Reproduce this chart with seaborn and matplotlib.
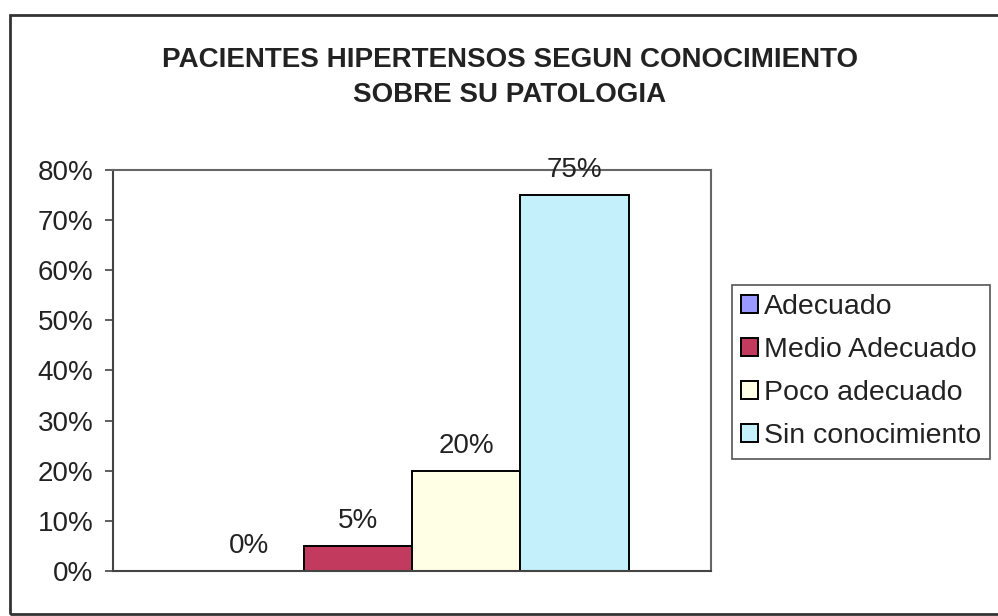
import matplotlib
matplotlib.use("Agg")
import matplotlib.pyplot as plt
from matplotlib.patches import Rectangle
from matplotlib.ticker import PercentFormatter
import seaborn as sns
import pandas as pd

# chart data
categories = ["Adecuado", "Medio Adecuado", "Poco adecuado", "Sin conocimiento"]
values = [0, 5, 20, 75]
colors = ["#9999FF", "#C23A5E", "#FFFFE6", "#C4F0FC"]
title = "PACIENTES HIPERTENSOS SEGUN CONOCIMIENTO\nSOBRE SU PATOLOGIA"

sns.set_style("white")
plt.rcParams['font.family'] = ['Liberation Sans', 'DejaVu Sans']

df = pd.DataFrame({"grupo": [""] * len(categories), "categoria": categories, "valor": values})

fig = plt.figure(figsize=(9.98, 6.16), dpi=100)
ax = fig.add_axes([0.1132, 0.0731, 0.5992, 0.651])

sns.barplot(data=df, x="grupo", y="valor", hue="categoria", hue_order=categories,
            palette=colors, width=0.725, dodge=True, edgecolor="black", linewidth=1.4,
            saturation=1, ax=ax, legend=True)

# data labels
for cont in ax.containers:
    for bar, v in zip(cont, cont.datavalues):
        ax.annotate(f"{v:.0f}%", (bar.get_x() + bar.get_width() / 2, bar.get_height()),
                    xytext=(0, 18), textcoords="offset points", ha="center", va="center",
                    fontsize=20, color="#222222")

ax.set_ylim(0, 80)
ax.set_xlim(-0.5, 0.5)
ax.set_yticks(range(0, 81, 10))
ax.yaxis.set_major_formatter(PercentFormatter(decimals=0))
ax.set_xticks([])
ax.set_xlabel("")
ax.set_ylabel("")
ax.tick_params(axis="y", left=True, length=6, width=1.2, color="#444444",
               labelsize=20, labelcolor="#222222", pad=8)
for side in ["left", "bottom"]:
    ax.spines[side].set_color("#444444")
    ax.spines[side].set_linewidth(1.5)
for side in ["top", "right"]:
    ax.spines[side].set_color("#666666")
    ax.spines[side].set_linewidth(1.5)

leg = ax.legend(loc="upper left", bbox_to_anchor=(1.035, 0.713), fontsize=20.5,
                frameon=True, fancybox=False, edgecolor="#555555", framealpha=1,
                handlelength=0.6, handleheight=0.6, handletextpad=0.2,
                labelspacing=0.6, borderpad=0.32, borderaxespad=0)
leg.get_frame().set_linewidth(1.2)
for t in leg.get_texts():
    t.set_color("#222222")

fig.text(0.511, 0.874, title, ha="center", va="center", fontsize=20,
         fontweight="bold", linespacing=1.45, color="#222222",
         family=['Liberation Sans Narrow', 'Liberation Sans'])

# outer chart border
fig.add_artist(Rectangle((0.01, 0.003), 1.5, 0.972, transform=fig.transFigure,
                         fill=False, edgecolor="#333333", linewidth=2))

fig.savefig("out.png", dpi=100)
